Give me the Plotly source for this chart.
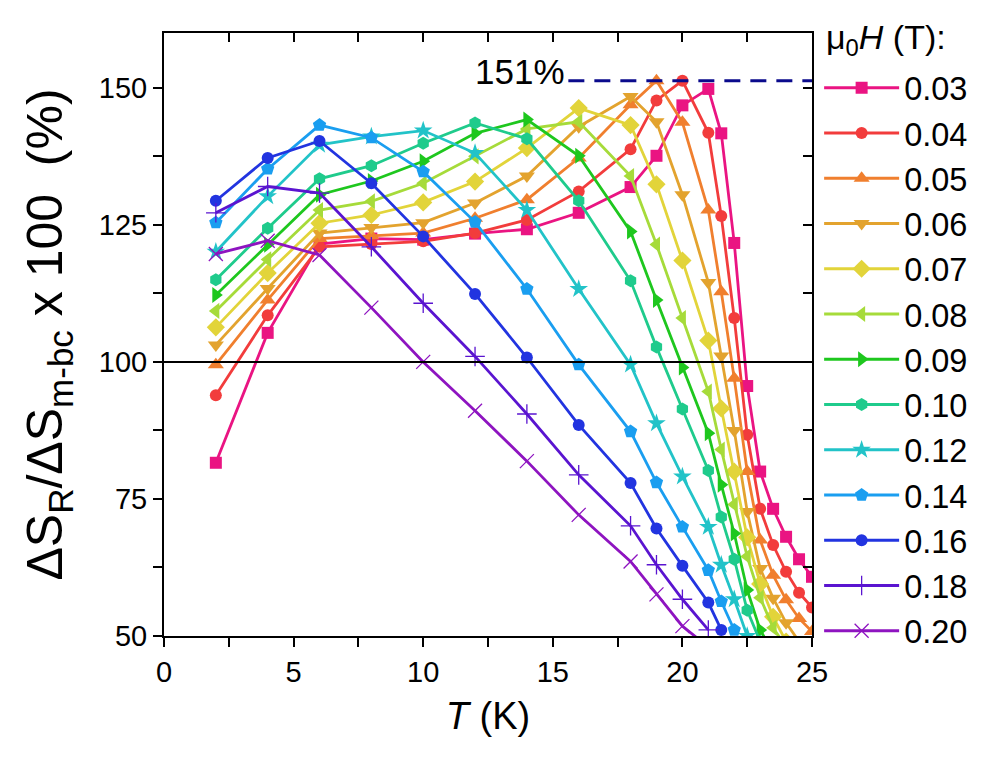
import plotly.graph_objects as go

# ---------------- data ----------------
T_all = [2, 4, 6, 8, 10, 12, 14, 16, 18, 19, 20, 21, 21.5, 22, 22.5, 23, 23.5, 24, 24.5, 25]

fields = ["0.03", "0.04", "0.05", "0.06", "0.07", "0.08", "0.09",
          "0.10", "0.12", "0.14", "0.16", "0.18", "0.20"]

s003 = [81.6, 105.3, 121.5, 122.5, 122.3, 123.4, 124.2, 127.2, 131.9, 137.6, 146.8, 149.8, 141.7, 121.7, 95.6, 80.0, 73.2, 68.1, 64.0, 60.8]
s004 = [93.9, 108.5, 121.0, 121.5, 122.0, 123.5, 125.9, 131.1, 138.8, 147.7, 151.3, 141.8, 126.6, 108.0, 86.7, 73.2, 66.6, 61.7, 57.9, 55.2]
s005 = [99.5, 111.3, 122.5, 123.0, 123.5, 126.2, 129.6, 137.2, 146.9, 151.3, 143.7, 127.7, 112.8, 97.0, 80.0, 67.5, 61.1, 56.6, 53.2, 50.8]
s006 = [103.1, 113.4, 123.5, 124.5, 125.4, 129.0, 133.9, 142.9, 148.4, 143.8, 130.5, 114.5, 101.1, 87.5, 72.7, 62.3, 56.9, 52.4, 49.0]
s007 = [106.3, 116.2, 125.3, 126.8, 129.1, 132.9, 139.0, 146.3, 143.2, 132.4, 118.5, 103.9, 91.5, 80.0, 68.0, 59.5, 53.5, 49.0]
s008 = [109.3, 118.7, 127.7, 129.3, 132.6, 137.5, 142.5, 143.8, 133.9, 121.4, 108.0, 94.6, 84.0, 74.0, 64.5, 57.0, 51.5, 48.0]
s009 = [112.2, 121.4, 130.5, 133.0, 136.6, 141.7, 144.2, 137.6, 123.8, 111.3, 99.0, 87.0, 77.6, 68.7, 58.4, 51.1, 47.0]
s010 = [115.0, 124.4, 133.4, 135.8, 139.9, 143.6, 140.7, 129.4, 114.8, 102.7, 91.4, 80.2, 71.7, 64.0, 54.7, 49.0]
s012 = [120.1, 130.2, 139.6, 141.1, 142.2, 138.1, 127.7, 113.3, 99.5, 88.8, 79.1, 69.9, 63.0, 56.7, 50.0]
s014 = [125.4, 135.2, 143.2, 140.9, 134.7, 125.5, 113.3, 99.5, 87.3, 78.0, 69.9, 62.0, 56.3, 51.1]
s016 = [129.4, 137.2, 140.3, 132.6, 122.9, 112.4, 100.8, 88.5, 77.9, 69.6, 62.8, 56.1, 51.1]
s018 = [127.2, 132.0, 130.8, 121.0, 110.7, 101.0, 90.5, 79.4, 70.1, 63.0, 56.7, 51.1]
s020 = [119.7, 122.1, 119.5, 109.9, 100.0, 91.1, 81.9, 72.1, 63.6, 57.6, 51.8, 48.0]

series = [s003, s004, s005, s006, s007, s008, s009, s010, s012, s014, s016, s018, s020]

x_ticks = [0, 5, 10, 15, 20, 25]
y_ticks = [50, 75, 100, 125, 150]

# ---------------- styles ----------------
colors = ["#EA1482", "#F23C3C", "#F07F2E", "#E3A32E", "#E2D43A", "#A6DB3A", "#1EC71E",
          "#1FCB8C", "#22C3C8", "#1A9EF0", "#2234E0", "#5A14D0", "#8E14C0"]
symbols = ["square", "circle", "triangle-up", "triangle-down", "diamond", "triangle-left",
           "triangle-right", "hexagon", "star", "pentagon", "circle", "cross-thin", "x-thin"]
sizes = [12, 12, 14, 14, 14, 14, 14, 13, 14, 14, 12, 14, 14]

FONT = "Arial, Liberation Sans, sans-serif"

fig = go.Figure()
for name, vals, c, sym, sz in zip(fields, series, colors, symbols, sizes):
    thin = sym.endswith("-thin")
    fig.add_trace(go.Scatter(
        x=T_all[:len(vals)], y=vals, name=name, mode="lines+markers",
        line=dict(color=c, width=2.8),
        marker=dict(symbol=sym, size=sz, color=c,
                    line=dict(color=c, width=1.3 if thin else 0)),
    ))

# dummy trace to anchor the mirrored (inside-tick) axes
fig.add_trace(go.Scatter(x=[0], y=[50], xaxis="x2", yaxis="y2", mode="markers",
                         marker=dict(opacity=0), showlegend=False, hoverinfo="skip"))

# reference line at 100 %
fig.add_shape(type="line", xref="x domain", yref="y", x0=0, x1=1, y0=100, y1=100,
              line=dict(color="black", width=2))

# peak marker
peak = max(max(v) for v in series)
fig.add_shape(type="line", xref="x", yref="y", x0=15.6, x1=25, y0=peak, y1=peak,
              line=dict(color="#0A0A8C", width=3, dash="16px,10px"))
fig.add_annotation(x=15.55, y=peak + 1.6, xref="x", yref="y", text=f"{round(peak)}%",
                   showarrow=False, xanchor="right", yanchor="middle",
                   font=dict(family=FONT, size=35, color="black"))

# legend heading
fig.add_annotation(x=1.018, y=0.99, xref="paper", yref="paper",
                   text="μ<sub>0</sub><i>H</i> (T):", showarrow=False,
                   xanchor="left", yanchor="middle",
                   font=dict(family=FONT, size=34, color="black"))

axis_common = dict(showline=True, linecolor="black", linewidth=2, mirror=True,
                   showgrid=False, zeroline=False, ticks="outside", ticklen=9,
                   tickwidth=2, tickcolor="black",
                   tickfont=dict(family=FONT, size=29, color="black"))

fig.update_layout(
    width=999, height=765,
    margin=dict(l=164, r=187, t=33, b=129),
    paper_bgcolor="white", plot_bgcolor="white",
    font=dict(family=FONT, color="black"),
    xaxis=dict(range=[0, 25], tickvals=x_ticks,
               minor=dict(dtick=2.5, ticks="outside", ticklen=9, tickwidth=2, tickcolor="black"),
               title=dict(text="<i>T</i> (K)", font=dict(family=FONT, size=38), standoff=16),
               **axis_common),
    yaxis=dict(range=[50, 160], tickvals=y_ticks,
               minor=dict(dtick=12.5, ticks="outside", ticklen=9, tickwidth=2, tickcolor="black"),
               title=dict(text="ΔS<sub>R</sub>/ΔS<sub>m-bc</sub> x 100  (%)",
                          font=dict(family=FONT, size=50), standoff=20),
               **axis_common),
    xaxis2=dict(overlaying="x", side="top", range=[0, 25], dtick=2.5, tick0=0,
                ticks="inside", ticklen=9, tickwidth=2, tickcolor="black",
                showticklabels=False, showgrid=False, zeroline=False, showline=False),
    yaxis2=dict(overlaying="y", side="right", range=[50, 160], dtick=12.5, tick0=50,
                ticks="inside", ticklen=9, tickwidth=2, tickcolor="black",
                showticklabels=False, showgrid=False, zeroline=False, showline=False),
    legend=dict(x=1.011, y=0.955, xanchor="left", yanchor="top",
                bgcolor="rgba(0,0,0,0)", borderwidth=0, maxheight=760,
                font=dict(family=FONT, size=32.5, color="black"),
                itemwidth=75, tracegroupgap=0),
    showlegend=True,
)

fig.write_html("out.html", config={"displayModeBar": False},
               post_script="document.body.style.margin='0px';")
